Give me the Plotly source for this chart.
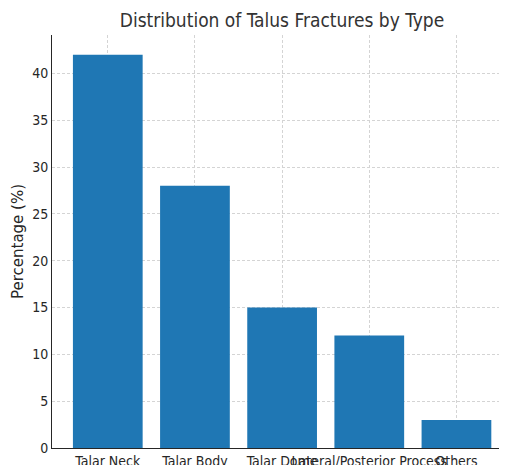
import plotly.graph_objects as go

categories = ["Talar Neck", "Talar Body", "Talar Dome", "Lateral/Posterior Process", "Others"]
percentages = [42, 28, 15, 12, 3]
y_ticks = [0, 5, 10, 15, 20, 25, 30, 35, 40]

font_family = "DejaVu Sans Condensed, DejaVu Sans"
grid_color = "#d4d4d4"

fig = go.Figure(
    go.Bar(
        x=list(range(len(categories))),
        y=percentages,
        width=0.8,
        marker=dict(color="#1f77b4", line=dict(width=0)),
    )
)

fig.update_layout(
    width=499,
    height=457,
    margin=dict(l=44, r=0, t=27, b=17),
    paper_bgcolor="white",
    plot_bgcolor="white",
    showlegend=False,
    font=dict(family=font_family, color="#262626", size=14),
    title=dict(
        text="Distribution of Talus Fractures by Type",
        x=0.549,
        xanchor="center",
        y=0.974,
        yanchor="middle",
        font=dict(size=19, family=font_family, color="#333333"),
    ),
)

fig.update_xaxes(
    tickmode="array",
    tickvals=list(range(len(categories))),
    ticktext=categories,
    range=[-0.64, 4.58],
    showline=True,
    linecolor="#262626",
    linewidth=1,
    ticks="",
    tickangle=0,
    showgrid=True,
    gridcolor=grid_color,
    griddash="3px,2px",
    gridwidth=0.7,
    zeroline=False,
    tickfont=dict(size=14),
    automargin=False,
    layer="above traces",
)

fig.update_yaxes(
    tickmode="array",
    tickvals=y_ticks,
    range=[0, 44.1],
    showline=True,
    linecolor="#262626",
    linewidth=1,
    ticks="",
    showgrid=True,
    gridcolor=grid_color,
    griddash="3px,2px",
    gridwidth=0.7,
    zeroline=False,
    tickfont=dict(size=14),
    title=dict(text="Percentage (%)", font=dict(size=15, family="DejaVu Sans"), standoff=4),
    automargin=False,
    layer="above traces",
)

fig.write_html("out.html")
